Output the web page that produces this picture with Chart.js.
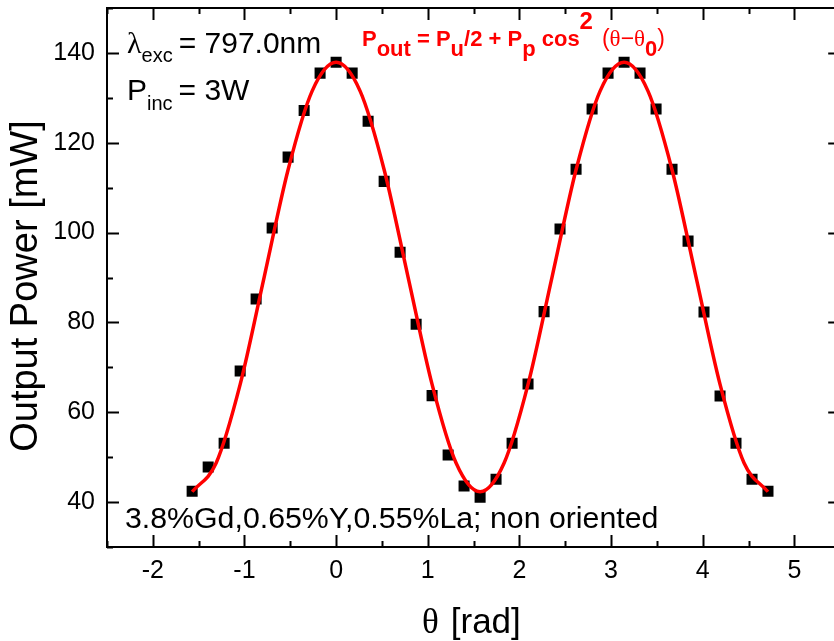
<!DOCTYPE html>
<html>
<head>
<meta charset="utf-8">
<script src="https://cdn.jsdelivr.net/npm/chart.js@4"></script>
<style>
  html, body { margin: 0; padding: 0; background: #fff; overflow: hidden; }
</style>
</head>
<body>
<canvas id="mainChart" width="848" height="641"></canvas>
<script>
// measured points (theta in rad, output power in mW)
const thetaRad = [-1.571, -1.396, -1.222, -1.047, -0.873, -0.698, -0.524, -0.349, -0.175, 0,
    0.175, 0.349, 0.524, 0.698, 0.873, 1.047, 1.222, 1.396, 1.571, 1.745, 1.920, 2.094, 2.269,
    2.443, 2.618, 2.793, 2.967, 3.142, 3.316, 3.491, 3.665, 3.840, 4.014, 4.189, 4.363, 4.538, 4.712];
const outputPower = [42.4, 47.8, 53.1, 69.2, 85.2, 101.0, 116.8, 127.2, 135.5, 137.9,
    135.5, 124.8, 111.4, 95.6, 79.6, 63.7, 50.5, 43.6, 41.1, 45.1, 53.1, 66.3, 82.4,
    100.8, 114.1, 127.5, 135.5, 137.9, 135.5, 127.5, 114.1, 98.1, 82.3, 63.6, 53.1, 45.1, 42.4];

// fitted curve
const fitTheta = [-1.571, -1.309, -1.047, -0.785, -0.524, -0.262, 0, 0.262, 0.524, 0.785, 1.047,
    1.309, 1.571, 1.833, 2.094, 2.356, 2.618, 2.880, 3.142, 3.403, 3.665, 3.927, 4.189, 4.451, 4.712];
const fitPower = [42.3, 48.7, 66.2, 90.1, 114.0, 131.5, 137.9, 131.5, 114.0, 90.1, 66.2,
    48.7, 42.3, 48.7, 66.2, 90.1, 114.0, 131.5, 137.9, 131.5, 114.0, 90.1, 66.2, 48.7, 42.3];

const xTicks = [-2, -1, 0, 1, 2, 3, 4, 5];
const xMinorTicks = [-2.5, -1.5, -0.5, 0.5, 1.5, 2.5, 3.5, 4.5, 5.5];
const yTicks = [40, 60, 80, 100, 120, 140];
const yMinorTicks = [30, 50, 70, 90, 110, 130, 150];

const SANS = '"Liberation Sans", Arial, sans-serif';
const SERIF = '"Liberation Serif", "Times New Roman", serif';

// draws text pieces one after another: [text, font, dy, extra gap]
const drawRuns = (ctx, x, y, runs, color) => {
    ctx.fillStyle = color;
    ctx.textBaseline = 'alphabetic';
    ctx.textAlign = 'left';
    runs.forEach(([txt, font, dy, gap]) => {
        ctx.font = font;
        ctx.fillText(txt, x, y + (dy || 0));
        x += ctx.measureText(txt).width + (gap || 0);
    });
};

const framePlugin = {
    id: 'frame',
    afterDraw(chart) {
        const ctx = chart.ctx;
        const a = chart.chartArea;
        const xs = chart.scales.x, ys = chart.scales.y;
        ctx.save();
        ctx.strokeStyle = '#000';
        ctx.lineWidth = 2;
        ctx.strokeRect(a.left, a.top, a.right - a.left, a.bottom - a.top);
        ctx.beginPath();
        const tickX = (vals, len) => vals.forEach(v => {
            const px = Math.round(xs.getPixelForValue(v)) + 0.5;
            ctx.moveTo(px, a.bottom); ctx.lineTo(px, a.bottom - len);
            ctx.moveTo(px, a.top); ctx.lineTo(px, a.top + len);
        });
        const tickY = (vals, len) => vals.forEach(v => {
            const py = Math.round(ys.getPixelForValue(v)) + 0.5;
            ctx.moveTo(a.left, py); ctx.lineTo(a.left + len, py);
            ctx.moveTo(a.right, py); ctx.lineTo(a.right - len, py);
        });
        tickX(xTicks, 12); tickX(xMinorTicks, 6);
        tickY(yTicks, 12); tickY(yMinorTicks, 6);
        ctx.stroke();

        // axis titles
        ctx.fillStyle = '#000';
        ctx.save();
        ctx.translate(37, 286);
        ctx.rotate(-Math.PI / 2);
        ctx.textAlign = 'center';
        ctx.font = '38px ' + SANS;
        ctx.fillText('Output Power [mW]', 0, 0);
        ctx.restore();
        drawRuns(ctx, 422, 633, [['θ', '35px ' + SERIF, 0, 12], ['[rad]', '35px ' + SANS]], '#000');

        // annotations
        drawRuns(ctx, 127, 53, [['λ', '30px ' + SERIF], ['exc', '20px ' + SANS, 9, 6], ['= 797.0nm', '30px ' + SANS]], '#000');
        drawRuns(ctx, 127, 100, [['P', '30px ' + SANS], ['inc', '20px ' + SANS, 10, 6], ['= 3W', '30px ' + SANS]], '#000');
        drawRuns(ctx, 125, 528, [['3.8%Gd,0.65%Y,0.55%La; non oriented', '30.3px ' + SANS]], '#000');

        const B = 'bold 22px ' + SANS;
        drawRuns(ctx, 362, 46, [
            ['P', B], ['out', B, 10], [' = P', B], ['u', B, 10], ['/2 + P', B], ['p', B, 10],
            [' cos', B], ['2', 'bold 24px ' + SANS, -17, 9], ['(', '23px ' + SANS], ['θ', '23px ' + SERIF],
            ['−', '23px ' + SANS], ['θ', '23px ' + SERIF], ['0', B, 10], [')', '23px ' + SANS]
        ], '#ff0000');
        ctx.restore();
    }
};

new Chart(document.getElementById('mainChart'), {
    type: 'line',
    data: {
        datasets: [{
            label: 'Fit',
            data: fitTheta.map((t, i) => ({ x: t, y: fitPower[i] })),
            borderColor: '#ff0000',
            borderWidth: 3.5,
            pointRadius: 0,
            cubicInterpolationMode: 'monotone',
            fill: false,
            order: 0,
        }, {
            label: 'Output Power',
            data: thetaRad.map((t, i) => ({ x: t, y: outputPower[i] })),
            showLine: false,
            pointStyle: 'rect',
            pointRadius: 7.8,
            pointBackgroundColor: '#000',
            pointBorderWidth: 0,
            order: 1,
        }]
    },
    options: {
        responsive: false,
        animation: false,
        layout: { padding: { top: 8, right: 7, left: 0, bottom: 0 } },
        plugins: {
            legend: { display: false },
            tooltip: { enabled: false },
        },
        scales: {
            x: {
                type: 'linear',
                min: -2.5,
                max: 5.5,
                afterBuildTicks: s => { s.ticks = xTicks.map(v => ({ value: v })); },
                afterFit: s => { s.height = 94; s.paddingLeft = 0; s.paddingRight = 0; },
                grid: { display: false, drawTicks: false },
                border: { display: false },
                ticks: { color: '#000', padding: 9, maxRotation: 0, font: { family: SANS, size: 25 } },
            },
            y: {
                min: 30,
                max: 150,
                afterBuildTicks: s => { s.ticks = yTicks.map(v => ({ value: v })); },
                afterFit: s => { s.width = 107; s.paddingTop = 0; s.paddingBottom = 0; },
                grid: { display: false, drawTicks: false },
                border: { display: false },
                ticks: { color: '#000', padding: 12, font: { family: SANS, size: 25 } },
            }
        }
    },
    plugins: [framePlugin],
});
</script>
</body>
</html>
